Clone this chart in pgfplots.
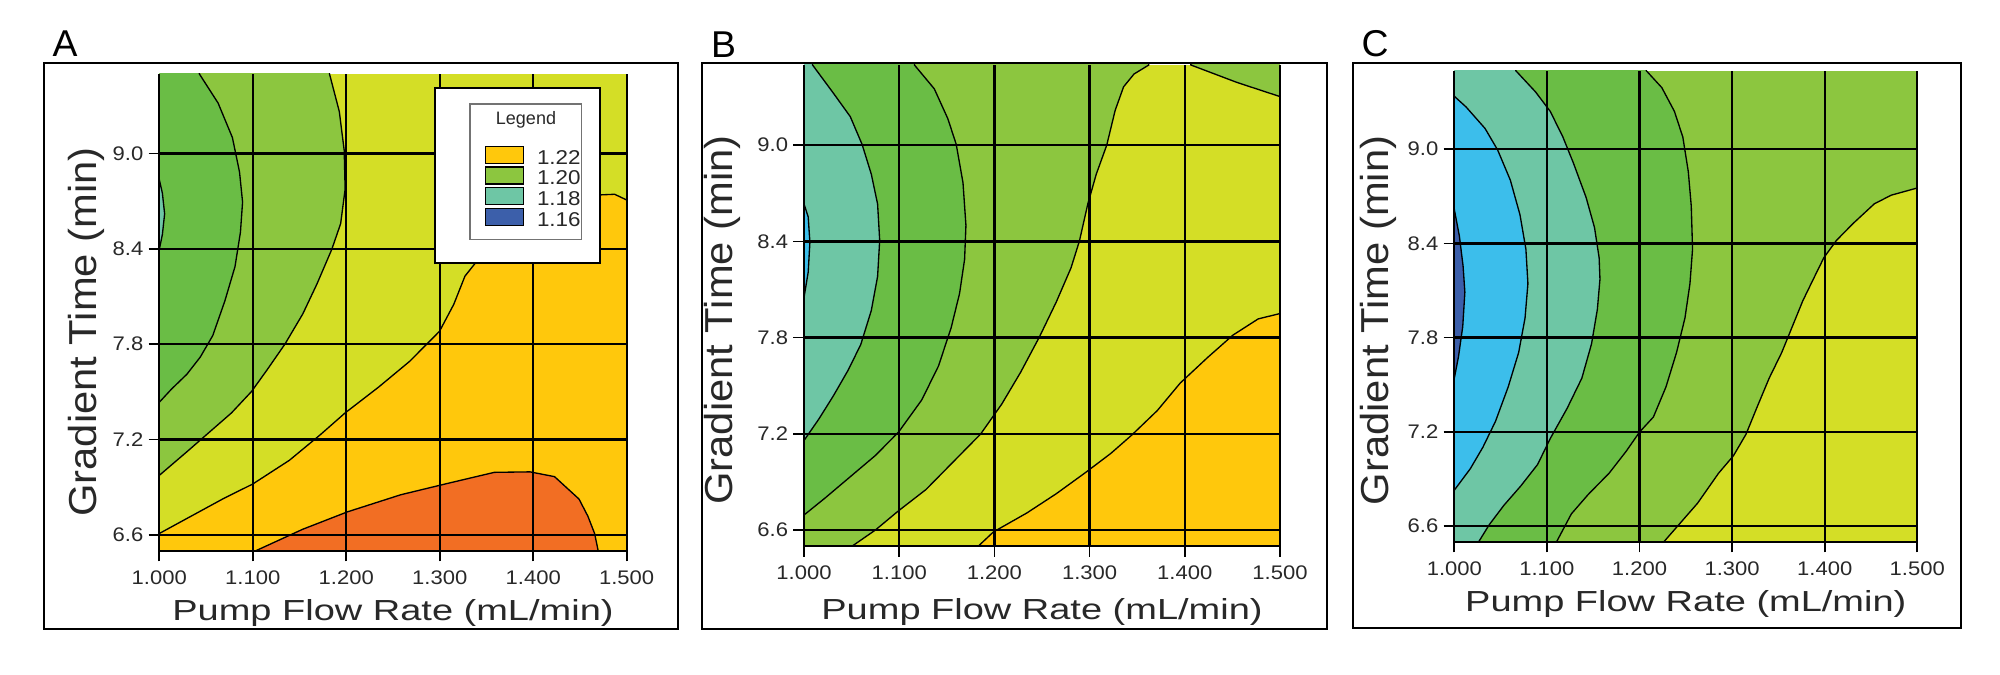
\documentclass[border=0pt]{standalone}
\usepackage{pgfplots}
\pgfplotsset{compat=1.18}
\usepackage{fontspec}
\setmainfont{Liberation Sans}
\newfontfamily\tickfont[FakeStretch=1.12]{Liberation Sans}
\newfontfamily\xlabfont[FakeStretch=1.31]{Liberation Sans}
\newfontfamily\ylabfont[FakeStretch=1.07]{Liberation Sans}

\definecolor{corange}{RGB}{242,110,35}
\definecolor{cgold}{RGB}{255,200,12}
\definecolor{cygreen}{RGB}{212,222,38}
\definecolor{clgreen}{RGB}{140,198,63}
\definecolor{cdgreen}{RGB}{106,189,69}
\definecolor{cteal}{RGB}{110,198,165}
\definecolor{csky}{RGB}{60,190,235}
\definecolor{cblue}{RGB}{60,95,170}
\definecolor{ctext}{RGB}{40,40,40}

\pgfplotsset{
 panel/.style={
  scale only axis, xmin=1, xmax=1.5, ymin=6.5, ymax=9.5,
  xtick={1,1.1,1.2,1.3,1.4,1.5},
  xticklabels={1.000,1.100,1.200,1.300,1.400,1.500},
  ytick={6.6,7.2,7.8,8.4,9.0},
  yticklabels={6.6,7.2,7.8,8.4,9.0},
  axis lines*=left,
  axis line style={black, line width=0.7pt},
  grid=major,
  major grid style={black, line width=0.7pt},
  tick align=outside,
  major tick length=3.2pt,
  tick style={black, line width=0.5pt},
  axis on top,
  xticklabel style={font=\tickfont\fontsize{5.9pt}{6pt}\selectfont, text=ctext, anchor=north, inner sep=0pt, yshift=-2.5pt},
  yticklabel style={font=\tickfont\fontsize{5.9pt}{6pt}\selectfont, text=ctext, anchor=east, inner sep=0pt, xshift=-1.4pt},
  xlabel={Pump Flow Rate (mL/min)},
  ylabel={Gradient Time (min)},
  xlabel style={font=\xlabfont\fontsize{8.7pt}{9pt}\selectfont, text=ctext, anchor=base, inner sep=0pt},
  ylabel style={font=\ylabfont\fontsize{11.7pt}{12pt}\selectfont, text=ctext, anchor=base, inner sep=0pt},
 },
 region/.style={fill=#1, draw=black, line width=0.4pt},
 basefill/.style={fill=#1, draw=none},
}

\begin{document}
\begin{tikzpicture}
\useasboundingbox (0,0) rectangle (600pt,202.5pt);

% ---------------- Panel A ----------------
\begin{axis}[panel, at={(47.79pt,37.29pt)}, anchor=south west, width=140.22pt, height=143.01pt,
  xlabel style={at={(axis description cs:0.5,-0.1454)}},
  ylabel style={at={(axis description cs:-0.1334,0.4588)}}]
\addplot[basefill=cygreen] coordinates {(1,6.5) (1.5,6.5) (1.5,9.5) (1,9.5)} -- cycle;
\addplot[region=clgreen] coordinates {(0.9,9.7) (1.1821,9.7) (1.1821,9.5) (1.1926,9.263) (1.1978,9.019) (1.1988,8.775) (1.1940,8.558) (1.1845,8.396) (1.1687,8.179) (1.1535,7.990) (1.1344,7.800) (1.1153,7.638) (1.0987,7.502) (1.0772,7.367) (1.0534,7.245) (1.0296,7.123) (1.0,6.974) (0.9,6.974)} -- cycle;
\addplot[region=cdgreen] coordinates {(0.9,9.7) (1.0429,9.7) (1.0429,9.5) (1.0629,9.317) (1.0782,9.100) (1.0858,8.884) (1.0891,8.694) (1.0868,8.504) (1.0810,8.288) (1.0701,8.071) (1.0572,7.854) (1.0439,7.719) (1.0296,7.611) (1.0129,7.516) (1.0,7.434) (0.9,7.434)} -- cycle;
\addplot[region=cteal] coordinates {(0.9,8.835) (1.0,8.835) (1.0033,8.75) (1.0057,8.62) (1.0033,8.49) (1.0,8.396) (0.9,8.396)} -- cycle;
\addplot[region=cgold] coordinates {(0.9,6.608) (1.0,6.608) (1.0296,6.703) (1.0677,6.825) (1.1001,6.920) (1.1392,7.069) (1.1725,7.231) (1.1988,7.367) (1.2345,7.529) (1.2679,7.692) (1.2998,7.881) (1.3150,8.05) (1.3270,8.228) (1.3380,8.309) (1.3600,8.40) (1.3900,8.52) (1.4200,8.62) (1.4500,8.70) (1.4714,8.739) (1.4871,8.743) (1.5,8.707) (1.6,8.707) (1.6,6.3) (0.9,6.3)} -- cycle;
\addplot[region=corange] coordinates {(1.1034,6.3) (1.1034,6.5) (1.1535,6.635) (1.2011,6.744) (1.2583,6.852) (1.3060,6.920) (1.3584,6.993) (1.3966,6.996) (1.4228,6.966) (1.4490,6.825) (1.4585,6.717) (1.4657,6.608) (1.4695,6.5) (1.4695,6.3)} -- cycle;
\end{axis}

% legend boxes of panel A
\draw[black, line width=0.6pt, fill=white] (130.5pt,123.51pt) rectangle (180pt,176.01pt);
\draw[black!55, line width=0.4pt] (141pt,130.71pt) rectangle (174.51pt,171.3pt);
\node[font=\fontsize{5.4pt}{6pt}\selectfont, text=ctext, inner sep=0pt] at (157.8pt,166.5pt) {Legend};

\begin{axis}[at={(47.79pt,37.29pt)}, anchor=south west, scale only axis, width=140.22pt, height=143.01pt,
  hide axis, xmin=0, xmax=1, ymin=0, ymax=1,
  legend style={at={(axis description cs:0.6947,0.8534)}, anchor=north west, draw=none, fill=none,
    inner sep=0pt, row sep=0pt, column sep=3.8pt,
    font=\tickfont\fontsize{6pt}{6pt}\selectfont, text=ctext,
    nodes={inner sep=0pt, text height=5.85pt, text depth=0.35pt}},
  legend cell align=left,
  legend image code/.code={\draw[#1, draw=black, line width=0.4pt] (0pt,-2.55pt) rectangle (11.5pt,2.55pt);}]
\addlegendimage{fill=cgold}\addlegendentry{1.22}
\addlegendimage{fill=clgreen}\addlegendentry{1.20}
\addlegendimage{fill=cteal}\addlegendentry{1.18}
\addlegendimage{fill=cblue}\addlegendentry{1.16}
\end{axis}

% ---------------- Panel B ----------------
\begin{axis}[panel, at={(241.2pt,38.7pt)}, anchor=south west, width=142.8pt, height=144.3pt,
  xlabel style={at={(axis description cs:0.5,-0.1538)}},
  ylabel style={at={(axis description cs:-0.1492,0.47)}}]
\addplot[basefill=cygreen] coordinates {(1,6.5) (1.5,6.5) (1.5,9.5) (1,9.5)} -- cycle;
\addplot[region=clgreen] coordinates {(0.9,6.3) (1.0508,6.3) (1.0508,6.5) (1.0751,6.600) (1.0994,6.720) (1.1281,6.852) (1.1568,7.025) (1.1855,7.198) (1.2076,7.384) (1.2275,7.583) (1.2473,7.804) (1.2650,8.022) (1.2805,8.235) (1.2893,8.402) (1.2981,8.633) (1.3070,8.819) (1.3180,9.0) (1.3269,9.218) (1.3357,9.364) (1.3467,9.444) (1.3622,9.5) (1.3622,9.7) (0.9,9.7)} -- cycle;
\addplot[region=clgreen] coordinates {(1.4064,9.7) (1.4064,9.5) (1.4549,9.391) (1.5,9.303) (1.6,9.303) (1.6,9.7)} -- cycle;
\addplot[region=cdgreen] coordinates {(0.9,9.7) (1.1160,9.7) (1.1160,9.5) (1.1369,9.351) (1.1511,9.165) (1.1599,9.005) (1.1670,8.766) (1.1701,8.500) (1.1687,8.288) (1.1634,8.075) (1.1546,7.862) (1.1413,7.623) (1.1237,7.411) (1.0994,7.211) (1.0751,7.065) (1.0486,6.932) (1.0221,6.799) (1.0,6.693) (0.9,6.693)} -- cycle;
\addplot[region=cteal] coordinates {(0.9,9.7) (1.0090,9.7) (1.0090,9.5) (1.0309,9.324) (1.0486,9.178) (1.0610,9.005) (1.0707,8.819) (1.0773,8.633) (1.0795,8.407) (1.0773,8.181) (1.0707,7.969) (1.0596,7.756) (1.0464,7.597) (1.0309,7.437) (1.0155,7.291) (1.0,7.158) (0.9,7.158)} -- cycle;
\addplot[region=csky] coordinates {(0.9,8.633) (1.0,8.633) (1.0044,8.553) (1.0062,8.394) (1.0044,8.208) (1.0,8.049) (0.9,8.049)} -- cycle;
\addplot[region=cgold] coordinates {(1.1833,6.3) (1.1833,6.5) (1.1988,6.587) (1.2341,6.706) (1.2650,6.826) (1.2959,6.959) (1.3224,7.078) (1.3445,7.193) (1.3710,7.344) (1.3953,7.517) (1.4240,7.676) (1.4505,7.815) (1.4770,7.916) (1.5,7.950) (1.6,7.950) (1.6,6.3)} -- cycle;
\end{axis}

% ---------------- Panel C ----------------
\begin{axis}[panel, at={(436.29pt,39.99pt)}, anchor=south west, width=138.9pt, height=141.3pt,
  xlabel style={at={(axis description cs:0.5,-0.1486)}},
  ylabel style={at={(axis description cs:-0.1426,0.47)}}]
\addplot[basefill=clgreen] coordinates {(1,6.5) (1.5,6.5) (1.5,9.5) (1,9.5)} -- cycle;
\addplot[region=cdgreen] coordinates {(0.9,9.7) (1.2073,9.7) (1.2073,9.5) (1.2241,9.392) (1.2377,9.241) (1.2468,9.077) (1.2527,8.857) (1.2559,8.638) (1.2573,8.364) (1.2545,8.144) (1.2491,7.925) (1.2400,7.705) (1.2286,7.486) (1.2150,7.294) (1.2000,7.198) (1.1855,7.075) (1.1673,6.937) (1.1445,6.800) (1.1264,6.677) (1.1105,6.5) (1.1105,6.3) (0.9,6.3)} -- cycle;
\addplot[region=cteal] coordinates {(0.9,9.7) (1.0664,9.7) (1.0664,9.5) (1.0877,9.365) (1.1036,9.241) (1.1173,9.077) (1.1286,8.912) (1.1423,8.693) (1.1514,8.501) (1.1564,8.309) (1.1573,8.172) (1.1545,7.980) (1.1482,7.760) (1.1377,7.541) (1.1218,7.349) (1.1036,7.157) (1.0900,6.992) (1.0718,6.855) (1.0536,6.732) (1.0377,6.608) (1.0264,6.5) (1.0264,6.3) (0.9,6.3)} -- cycle;
\addplot[region=csky] coordinates {(0.9,9.337) (1.0,9.337) (1.0127,9.269) (1.0332,9.132) (1.0468,8.995) (1.0605,8.803) (1.0709,8.583) (1.0773,8.364) (1.0795,8.144) (1.0764,7.925) (1.0695,7.705) (1.0582,7.486) (1.0445,7.267) (1.0309,7.102) (1.0173,6.965) (1.0,6.828) (0.9,6.828)} -- cycle;
\addplot[region=cblue] coordinates {(0.9,8.616) (1.0,8.616) (1.0055,8.446) (1.0095,8.254) (1.0114,8.089) (1.0091,7.870) (1.0045,7.678) (1.0,7.541) (0.9,7.541)} -- cycle;
\addplot[region=cygreen] coordinates {(1.2264,6.3) (1.2264,6.5) (1.2445,6.622) (1.2627,6.745) (1.2855,6.937) (1.3014,7.047) (1.3150,7.184) (1.3264,7.349) (1.3400,7.541) (1.3536,7.705) (1.3650,7.870) (1.3764,8.035) (1.3877,8.172) (1.3991,8.309) (1.4127,8.419) (1.4309,8.528) (1.4536,8.652) (1.4718,8.707) (1.5,8.753) (1.6,8.753) (1.6,6.3)} -- cycle;
\end{axis}

% frames and panel letters
\draw[black, line width=0.6pt] (13.2pt,13.8pt) rectangle (203.4pt,183.69pt);
\draw[black, line width=0.6pt] (210.51pt,13.8pt) rectangle (398.01pt,183.51pt);
\draw[black, line width=0.6pt] (405.99pt,14.1pt) rectangle (588.3pt,183.69pt);
\node[anchor=base west, inner sep=0pt, font=\fontsize{11.2pt}{12pt}\selectfont, text=black] at (15.6pt,185.49pt) {A};
\node[anchor=base west, inner sep=0pt, font=\fontsize{11.2pt}{12pt}\selectfont, text=black] at (213.1pt,185.31pt) {B};
\node[anchor=base west, inner sep=0pt, font=\fontsize{11.2pt}{12pt}\selectfont, text=black] at (408.3pt,185.49pt) {C};
\end{tikzpicture}
\end{document}
